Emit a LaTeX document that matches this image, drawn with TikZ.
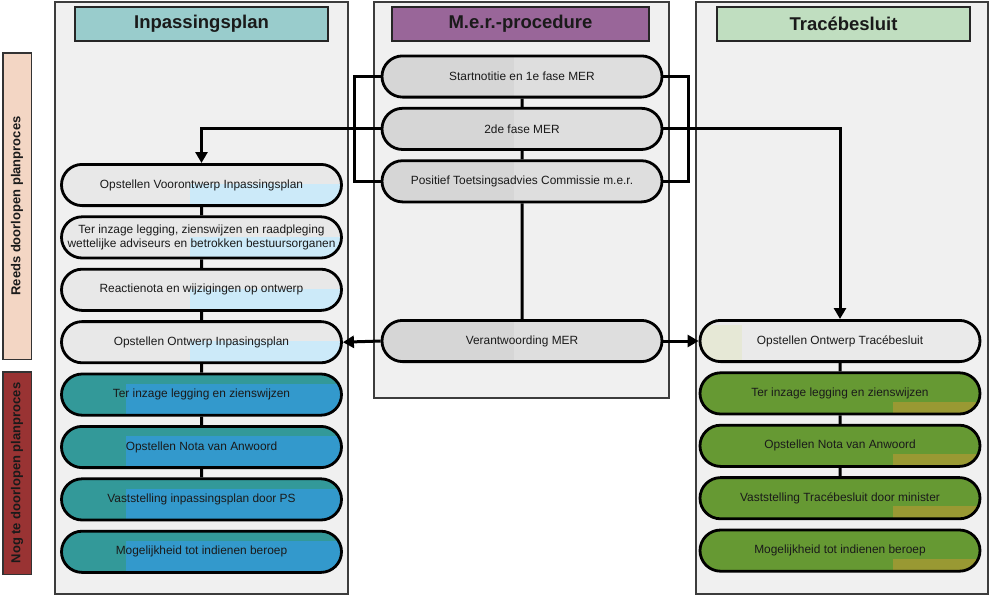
\documentclass[tikz,border=0pt]{standalone}
\usepackage{fontspec}
\setmainfont{Liberation Sans}
\usepackage{tikz}
\usetikzlibrary{shapes.misc, arrows.meta, calc, positioning}
\definecolor{panelgray}{RGB}{240,240,240}
\definecolor{panelline}{RGB}{60,60,60}
\definecolor{headIP}{RGB}{153,204,204}
\definecolor{headMER}{RGB}{153,102,153}
\definecolor{headTB}{RGB}{192,222,192}
\definecolor{merA}{RGB}{214,214,214}
\definecolor{merB}{RGB}{222,222,222}
\definecolor{doneA}{RGB}{232,232,232}
\definecolor{doneB}{RGB}{204,234,249}
\definecolor{tealA}{RGB}{51,153,153}
\definecolor{tealB}{RGB}{51,153,204}
\definecolor{greenA}{RGB}{102,153,51}
\definecolor{greenB}{RGB}{153,153,51}
\definecolor{traceA}{RGB}{234,234,234}
\definecolor{traceB}{RGB}{230,232,214}
\definecolor{reeds}{RGB}{243,214,196}
\definecolor{nogte}{RGB}{153,51,51}
\definecolor{txt}{RGB}{26,26,26}
\tikzstyle{panel} = [draw=panelline, fill=panelgray, line width=1.5pt, anchor=north west, inner sep=0pt]
\tikzstyle{head} = [draw=black!85, line width=2pt, minimum height=34pt, text=txt, font=\fontsize{18.5}{22}\selectfont\bfseries]
\tikzstyle{side} = [draw=black!80, line width=1.5pt, minimum height=28.5pt, rotate=90, text=txt, font=\fontsize{13}{15}\selectfont\bfseries]
\tikzstyle{fase} = [rounded rectangle, draw=black, line width=2.8pt, minimum width=280pt, minimum height=41.2pt, inner sep=0pt, align=center, text=txt, font=\fontsize{11.9}{14}\selectfont]
\tikzstyle{link} = [line width=3pt]
\tikzstyle{arrow} = [line width=3pt,-{Triangle[length=11pt,width=12pt]}]
\tikzset{
	patch/.style n args={4}{path picture={
		\fill[#1] let \p1=(path picture bounding box.south west), \p2=(path picture bounding box.north east) in
			({\x1+#2*(\x2-\x1)},{\y2-#4*(\y2-\y1)}) rectangle ({\x1+#3*(\x2-\x1)},\y1);
	}},
	mer/.style={fase, fill=merA, patch={merB}{0.47}{1}{0}},
	done/.style={fase, fill=doneA, patch={doneB}{0.46}{1}{0.48}},
	todoIP/.style={fase, fill=tealA, patch={tealB}{0.23}{1}{0.24}},
	todoTB/.style={fase, fill=greenA, patch={greenB}{0.69}{1}{0.70}},
}
\begin{document}
\begin{tikzpicture}[x=1pt, y=1pt, node distance = 8.4pt]
	\useasboundingbox (0,0) rectangle (989,-595);
	% kolommen
	\node (PanelIP) [panel, minimum width=293pt, minimum height=592pt] at (54,-1) {};
	\node (PanelMER) [panel, minimum width=295pt, minimum height=396pt] at (373,-1) {};
	\node (PanelTB) [panel, minimum width=292pt, minimum height=592pt] at (695,-1) {};
	\node (HeadIP) [head, fill=headIP, minimum width=253pt] at (201.5,-24) {Inpassingsplan};
	\node (HeadMER) [head, fill=headMER, minimum width=257pt] at (520.5,-24) {M.e.r.-procedure};
	\node (HeadTB) [head, fill=headTB, minimum width=253pt] at (843.5,-24) {Tracébesluit};
	\node (Reeds) [side, fill=reeds, minimum width=306.5pt] at (17,-206) {Reeds doorlopen planproces};
	\node (Nogte) [side, fill=nogte, minimum width=202.5pt] at (17,-473) {Nog te doorlopen planproces};
	% m.e.r.
	\node (Startnotitie) [mer] at (522,-76.5) {Startnotitie en 1e fase MER};
	\node (TweedeFase) [mer, below=of Startnotitie] {2de fase MER};
	\node (Positief) [mer, below=of TweedeFase] {Positief Toetsingsadvies Commissie m.e.r.};
	\node (Verantwoording) [mer] at (522,-341) {Verantwoording MER};
	% inpassingsplan
	\node (Voorontwerp) [done] at (201.5,-185) {Opstellen Voorontwerp Inpassingsplan};
	\node (TerInzageRaad) [done, below=of Voorontwerp] {Ter inzage legging, zienswijzen en raadpleging\\wettelijke adviseurs en betrokken bestuursorganen};
	\node (Reactienota) [done, below=of TerInzageRaad] {Reactienota en wijzigingen op ontwerp};
	\node (OntwerpIP) [done, below=of Reactienota] {Opstellen Ontwerp Inpasingsplan};
	\node (TerInzageIP) [todoIP, below=of OntwerpIP] {Ter inzage legging en zienswijzen};
	\node (NotaIP) [todoIP, below=of TerInzageIP] {Opstellen Nota van Anwoord};
	\node (VaststellingIP) [todoIP, below=of NotaIP] {Vaststelling inpassingsplan door PS};
	\node (BeroepIP) [todoIP, below=of VaststellingIP] {Mogelijkheid tot indienen beroep};
	% tracebesluit
	\node (OntwerpTB) [fase, fill=traceA, patch={traceB}{0}{0.15}{0.12}] at (840,-341) {Opstellen Ontwerp Tracébesluit};
	\node (TerInzageTB) [todoTB, below=of OntwerpTB] {Ter inzage legging en zienswijzen};
	\node (NotaTB) [todoTB, below=of TerInzageTB] {Opstellen Nota van Anwoord};
	\node (VaststellingTB) [todoTB, below=of NotaTB] {Vaststelling Tracébesluit door minister};
	\node (BeroepTB) [todoTB, below=of VaststellingTB] {Mogelijkheid tot indienen beroep};
	% verbindingen
	\draw [link] (Startnotitie) -- (TweedeFase);
	\draw [link] (TweedeFase) -- (Positief);
	\draw [link] (Positief) -- (Verantwoording);
	\draw [link] (Startnotitie.west) -- ++(-26,0) |- (Positief.west);
	\draw [link] (Startnotitie.east) -- ++(25,0) |- (Positief.east);
	\draw [arrow] (TweedeFase.west) -| (Voorontwerp.north);
	\draw [arrow] (TweedeFase.east) -| (OntwerpTB.north);
	\draw [arrow] (Verantwoording.west) -- (OntwerpIP.east);
	\draw [arrow] (Verantwoording.east) -- (OntwerpTB.west);
	\draw [link] (Voorontwerp) -- (TerInzageRaad);
	\draw [link] (TerInzageRaad) -- (Reactienota);
	\draw [link] (Reactienota) -- (OntwerpIP);
	\draw [link] (OntwerpIP) -- (TerInzageIP);
	\draw [link] (TerInzageIP) -- (NotaIP);
	\draw [link] (NotaIP) -- (VaststellingIP);
	\draw [link] (OntwerpTB) -- (TerInzageTB);
	\draw [link] (TerInzageTB) -- (NotaTB);
	\draw [link] (NotaTB) -- (VaststellingTB);
\end{tikzpicture}
\end{document}
